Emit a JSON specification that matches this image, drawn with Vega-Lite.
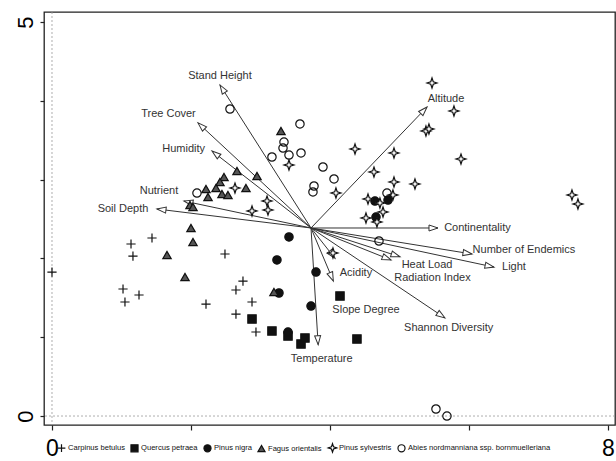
{
  "$schema": "https://vega.github.io/schema/vega-lite/v6.json",
  "width": 571,
  "height": 413,
  "autosize": {"type": "none"},
  "padding": {"left": 44, "top": 12, "right": 1, "bottom": 36},
  "background": "white",
  "config": {"view": {"stroke": "#222", "strokeWidth": 1.3}, "font": "Liberation Sans"},
  "datasets": {
    "pts": [
      {"sp": "Carpinus betulus", "x": 0.0, "y": 1.827},
      {"sp": "Carpinus betulus", "x": 1.137, "y": 2.183},
      {"sp": "Carpinus betulus", "x": 1.165, "y": 2.03},
      {"sp": "Carpinus betulus", "x": 1.439, "y": 2.259},
      {"sp": "Carpinus betulus", "x": 2.489, "y": 2.056},
      {"sp": "Carpinus betulus", "x": 1.022, "y": 1.612},
      {"sp": "Carpinus betulus", "x": 1.05, "y": 1.447},
      {"sp": "Carpinus betulus", "x": 1.252, "y": 1.536},
      {"sp": "Carpinus betulus", "x": 2.216, "y": 1.421},
      {"sp": "Carpinus betulus", "x": 2.748, "y": 1.713},
      {"sp": "Carpinus betulus", "x": 2.647, "y": 1.599},
      {"sp": "Carpinus betulus", "x": 2.647, "y": 1.294},
      {"sp": "Carpinus betulus", "x": 2.878, "y": 1.447},
      {"sp": "Carpinus betulus", "x": 2.935, "y": 1.066},
      {"sp": "Quercus petraea", "x": 2.878, "y": 1.231},
      {"sp": "Quercus petraea", "x": 3.165, "y": 1.079},
      {"sp": "Quercus petraea", "x": 3.396, "y": 1.015},
      {"sp": "Quercus petraea", "x": 3.583, "y": 0.914},
      {"sp": "Quercus petraea", "x": 3.64, "y": 0.99},
      {"sp": "Quercus petraea", "x": 4.144, "y": 1.523},
      {"sp": "Quercus petraea", "x": 4.388, "y": 0.977},
      {"sp": "Pinus nigra", "x": 3.41, "y": 2.272},
      {"sp": "Pinus nigra", "x": 3.237, "y": 1.98},
      {"sp": "Pinus nigra", "x": 3.799, "y": 1.827},
      {"sp": "Pinus nigra", "x": 3.266, "y": 1.561},
      {"sp": "Pinus nigra", "x": 3.727, "y": 1.396},
      {"sp": "Pinus nigra", "x": 3.396, "y": 1.066},
      {"sp": "Pinus nigra", "x": 4.647, "y": 2.728},
      {"sp": "Pinus nigra", "x": 4.835, "y": 2.741},
      {"sp": "Pinus nigra", "x": 4.662, "y": 2.525},
      {"sp": "Fagus orientalis", "x": 3.295, "y": 3.617},
      {"sp": "Fagus orientalis", "x": 2.662, "y": 3.109},
      {"sp": "Fagus orientalis", "x": 2.95, "y": 3.046},
      {"sp": "Fagus orientalis", "x": 2.475, "y": 3.033},
      {"sp": "Fagus orientalis", "x": 2.417, "y": 2.97},
      {"sp": "Fagus orientalis", "x": 2.36, "y": 2.893},
      {"sp": "Fagus orientalis", "x": 2.216, "y": 2.881},
      {"sp": "Fagus orientalis", "x": 2.245, "y": 2.779},
      {"sp": "Fagus orientalis", "x": 2.446, "y": 2.817},
      {"sp": "Fagus orientalis", "x": 2.532, "y": 2.805},
      {"sp": "Fagus orientalis", "x": 2.791, "y": 2.893},
      {"sp": "Fagus orientalis", "x": 1.986, "y": 2.678},
      {"sp": "Fagus orientalis", "x": 2.029, "y": 2.652},
      {"sp": "Fagus orientalis", "x": 2.0, "y": 2.386},
      {"sp": "Fagus orientalis", "x": 2.029, "y": 2.208},
      {"sp": "Fagus orientalis", "x": 1.655, "y": 2.043},
      {"sp": "Fagus orientalis", "x": 1.914, "y": 1.764},
      {"sp": "Fagus orientalis", "x": 3.194, "y": 1.574},
      {"sp": "Pinus sylvestris", "x": 2.633, "y": 2.893},
      {"sp": "Pinus sylvestris", "x": 3.094, "y": 2.728},
      {"sp": "Pinus sylvestris", "x": 3.108, "y": 2.614},
      {"sp": "Pinus sylvestris", "x": 2.878, "y": 2.602},
      {"sp": "Pinus sylvestris", "x": 3.41, "y": 3.185},
      {"sp": "Pinus sylvestris", "x": 4.36, "y": 3.388},
      {"sp": "Pinus sylvestris", "x": 4.921, "y": 3.338},
      {"sp": "Pinus sylvestris", "x": 4.633, "y": 3.096},
      {"sp": "Pinus sylvestris", "x": 4.921, "y": 2.97},
      {"sp": "Pinus sylvestris", "x": 5.223, "y": 2.944},
      {"sp": "Pinus sylvestris", "x": 4.086, "y": 2.83},
      {"sp": "Pinus sylvestris", "x": 4.547, "y": 2.754},
      {"sp": "Pinus sylvestris", "x": 4.719, "y": 2.703},
      {"sp": "Pinus sylvestris", "x": 4.906, "y": 2.805},
      {"sp": "Pinus sylvestris", "x": 4.763, "y": 2.589},
      {"sp": "Pinus sylvestris", "x": 4.518, "y": 2.513},
      {"sp": "Pinus sylvestris", "x": 4.676, "y": 2.462},
      {"sp": "Pinus sylvestris", "x": 5.468, "y": 4.226},
      {"sp": "Pinus sylvestris", "x": 5.784, "y": 3.871},
      {"sp": "Pinus sylvestris", "x": 5.381, "y": 3.617},
      {"sp": "Pinus sylvestris", "x": 5.424, "y": 3.642},
      {"sp": "Pinus sylvestris", "x": 5.885, "y": 3.261},
      {"sp": "Pinus sylvestris", "x": 7.482, "y": 2.805},
      {"sp": "Pinus sylvestris", "x": 7.568, "y": 2.69},
      {"sp": "Pinus sylvestris", "x": 4.043, "y": 2.069},
      {"sp": "Abies nordmanniana ssp. bornmuelleriana", "x": 2.561, "y": 3.896},
      {"sp": "Abies nordmanniana ssp. bornmuelleriana", "x": 3.568, "y": 3.706},
      {"sp": "Abies nordmanniana ssp. bornmuelleriana", "x": 3.338, "y": 3.477},
      {"sp": "Abies nordmanniana ssp. bornmuelleriana", "x": 3.324, "y": 3.401},
      {"sp": "Abies nordmanniana ssp. bornmuelleriana", "x": 3.41, "y": 3.312},
      {"sp": "Abies nordmanniana ssp. bornmuelleriana", "x": 3.583, "y": 3.338},
      {"sp": "Abies nordmanniana ssp. bornmuelleriana", "x": 3.165, "y": 3.287},
      {"sp": "Abies nordmanniana ssp. bornmuelleriana", "x": 2.086, "y": 2.83},
      {"sp": "Abies nordmanniana ssp. bornmuelleriana", "x": 3.899, "y": 3.16},
      {"sp": "Abies nordmanniana ssp. bornmuelleriana", "x": 3.77, "y": 2.919},
      {"sp": "Abies nordmanniana ssp. bornmuelleriana", "x": 3.755, "y": 2.843},
      {"sp": "Abies nordmanniana ssp. bornmuelleriana", "x": 4.058, "y": 3.008},
      {"sp": "Abies nordmanniana ssp. bornmuelleriana", "x": 4.82, "y": 2.83},
      {"sp": "Abies nordmanniana ssp. bornmuelleriana", "x": 4.705, "y": 2.221},
      {"sp": "Abies nordmanniana ssp. bornmuelleriana", "x": 5.525, "y": 0.089},
      {"sp": "Abies nordmanniana ssp. bornmuelleriana", "x": 5.683, "y": 0.0}
    ],
    "arrows": [
      {"v": "Stand Height", "x": 2.417, "y": 4.201},
      {"v": "Tree Cover", "x": 2.1, "y": 3.72},
      {"v": "Humidity", "x": 2.302, "y": 3.363},
      {"v": "Nutrient", "x": 1.899, "y": 2.728},
      {"v": "Soil Depth", "x": 1.511, "y": 2.627},
      {"v": "Altitude", "x": 5.396, "y": 3.921},
      {"v": "Continentality", "x": 5.554, "y": 2.386},
      {"v": "Number of Endemics", "x": 6.043, "y": 2.056},
      {"v": "Light", "x": 6.36, "y": 1.89},
      {"v": "Heat Load", "x": 5.007, "y": 2.021},
      {"v": "Radiation Index", "x": 4.878, "y": 1.98},
      {"v": "Slope Degree", "x": 4.072, "y": 2.001},
      {"v": "Acidity", "x": 4.048, "y": 1.713},
      {"v": "Shannon Diversity", "x": 5.655, "y": 1.244},
      {"v": "Temperature", "x": 3.83, "y": 0.905}
    ],
    "labels": [
      {"t": "Stand Height", "x": 2.417, "y": 4.315},
      {"t": "Tree Cover", "x": 1.676, "y": 3.832},
      {"t": "Humidity", "x": 1.895, "y": 3.388},
      {"t": "Nutrient", "x": 1.54, "y": 2.855},
      {"t": "Soil Depth", "x": 1.022, "y": 2.627},
      {"t": "Altitude", "x": 5.669, "y": 4.023},
      {"t": "Continentality", "x": 6.122, "y": 2.386},
      {"t": "Number of Endemics", "x": 6.791, "y": 2.107},
      {"t": "Light", "x": 6.647, "y": 1.891},
      {"t": "Heat Load", "x": 5.396, "y": 1.916},
      {"t": "Radiation Index", "x": 5.475, "y": 1.751},
      {"t": "Acidity", "x": 4.374, "y": 1.819},
      {"t": "Slope Degree", "x": 4.518, "y": 1.345},
      {"t": "Shannon Diversity", "x": 5.708, "y": 1.117},
      {"t": "Temperature", "x": 3.881, "y": 0.723}
    ]
  },
  "layer": [
    {
      "data": {"values": [{}]},
      "mark": {"type": "rule", "stroke": "#999", "strokeDash": [2, 2], "strokeWidth": 0.8},
      "encoding": {"x": {"datum": 0, "type": "quantitative"}}
    },
    {
      "data": {"values": [{}]},
      "mark": {"type": "rule", "stroke": "#999", "strokeDash": [2, 2], "strokeWidth": 0.8},
      "encoding": {"y": {"datum": 0, "type": "quantitative"}}
    },
    {
      "data": {"name": "arrows"},
      "mark": {"type": "rule", "stroke": "#333", "strokeWidth": 1},
      "encoding": {
        "x": {"field": "x", "type": "quantitative"},
        "y": {"field": "y", "type": "quantitative"},
        "x2": {"datum": 3.727},
        "y2": {"datum": 2.386}
      }
    },
    {
      "data": {"name": "arrows"},
      "transform": [
        {"calculate": "atan2((datum.x - 3.727) * 69.5, (datum.y - 2.386) * 78.8) * 180 / PI", "as": "ang"}
      ],
      "mark": {"type": "point", "shape": "M0,0L-0.6,1.8L0.6,1.8Z", "size": 100, "filled": true, "fill": "white", "stroke": "#333", "strokeWidth": 1, "opacity": 1},
      "encoding": {
        "x": {"field": "x", "type": "quantitative"},
        "y": {"field": "y", "type": "quantitative"},
        "angle": {"field": "ang", "type": "quantitative", "scale": null}
      }
    },
    {
      "data": {"name": "pts"},
      "mark": {"type": "point", "size": 70, "strokeWidth": 1.2, "opacity": 1},
      "encoding": {
        "x": {
          "field": "x", "type": "quantitative",
          "scale": {"domain": [-0.115, 8.101], "nice": false, "zero": false},
          "axis": {
            "values": [0, 2, 4, 6, 8],
            "format": "d",
            "labelExpr": "datum.value == 0 || datum.value == 8 ? datum.label : ''",
            "title": null, "grid": false, "domain": false,
            "tickSize": 5, "tickColor": "#222", "tickWidth": 1.2,
            "labelFontSize": 23, "labelColor": "#000", "labelPadding": 7,
            "labelFont": "Liberation Sans", "labelFlush": false, "labelOverlap": false, "labelBound": false
          }
        },
        "y": {
          "field": "y", "type": "quantitative",
          "scale": {"domain": [-0.114, 5.127], "nice": false, "zero": false},
          "axis": {
            "values": [0, 1, 2, 3, 4, 5],
            "format": "d",
            "labelExpr": "datum.value == 0 || datum.value == 5 ? datum.label : ''",
            "title": null, "grid": false, "domain": false,
            "tickSize": 4, "tickColor": "#222", "tickWidth": 1.2,
            "labelAngle": -90, "labelAlign": "center", "labelBaseline": "alphabetic",
            "labelFontSize": 22, "labelColor": "#000", "labelPadding": 8,
            "labelFont": "Liberation Sans", "labelFlush": false, "labelOverlap": false, "labelBound": false
          }
        },
        "shape": {
          "field": "sp", "type": "nominal",
          "scale": {
            "domain": ["Carpinus betulus", "Quercus petraea", "Pinus nigra", "Fagus orientalis", "Pinus sylvestris", "Abies nordmanniana ssp. bornmuelleriana"],
            "range": ["M-1.1,0L1.1,0M0,-1.1L0,1.1", "square", "circle", "triangle-up", "M0,-1.2L0.3,-0.3L1.2,0L0.3,0.3L0,1.2L-0.3,0.3L-1.2,0L-0.3,-0.3Z", "circle"]
          },
          "legend": {"orient": "none", "legendX": 13, "legendY": 431, "direction": "horizontal", "columns": 6, "title": null, "labelFontSize": 7.6, "labelFont": "Liberation Sans", "labelColor": "#111", "symbolSize": 50, "symbolStrokeWidth": 1.2, "labelOffset": 2, "columnPadding": 3, "padding": 0}
        },
        "fill": {
          "field": "sp", "type": "nominal",
          "scale": {
            "domain": ["Carpinus betulus", "Quercus petraea", "Pinus nigra", "Fagus orientalis", "Pinus sylvestris", "Abies nordmanniana ssp. bornmuelleriana"],
            "range": ["transparent", "#111", "#111", "#555", "white", "transparent"]
          },
          "legend": {"orient": "none", "legendX": 13, "legendY": 431, "direction": "horizontal", "columns": 6, "title": null, "labelFontSize": 7.6, "labelFont": "Liberation Sans", "labelColor": "#111", "symbolSize": 50, "symbolStrokeWidth": 1.2, "labelOffset": 2, "columnPadding": 3, "padding": 0}
        },
        "stroke": {
          "field": "sp", "type": "nominal",
          "scale": {
            "domain": ["Carpinus betulus", "Quercus petraea", "Pinus nigra", "Fagus orientalis", "Pinus sylvestris", "Abies nordmanniana ssp. bornmuelleriana"],
            "range": ["#111", "#111", "#111", "#111", "#111", "#111"]
          },
          "legend": {"orient": "none", "legendX": 13, "legendY": 431, "direction": "horizontal", "columns": 6, "title": null, "labelFontSize": 7.6, "labelFont": "Liberation Sans", "labelColor": "#111", "symbolSize": 50, "symbolStrokeWidth": 1.2, "labelOffset": 2, "columnPadding": 3, "padding": 0}
        }
      }
    },
    {
      "data": {"name": "labels"},
      "mark": {"type": "text", "fontSize": 11, "font": "Liberation Sans", "fill": "#333", "align": "center", "baseline": "middle"},
      "encoding": {
        "x": {"field": "x", "type": "quantitative"},
        "y": {"field": "y", "type": "quantitative"},
        "text": {"field": "t", "type": "nominal"}
      }
    }
  ]
}
